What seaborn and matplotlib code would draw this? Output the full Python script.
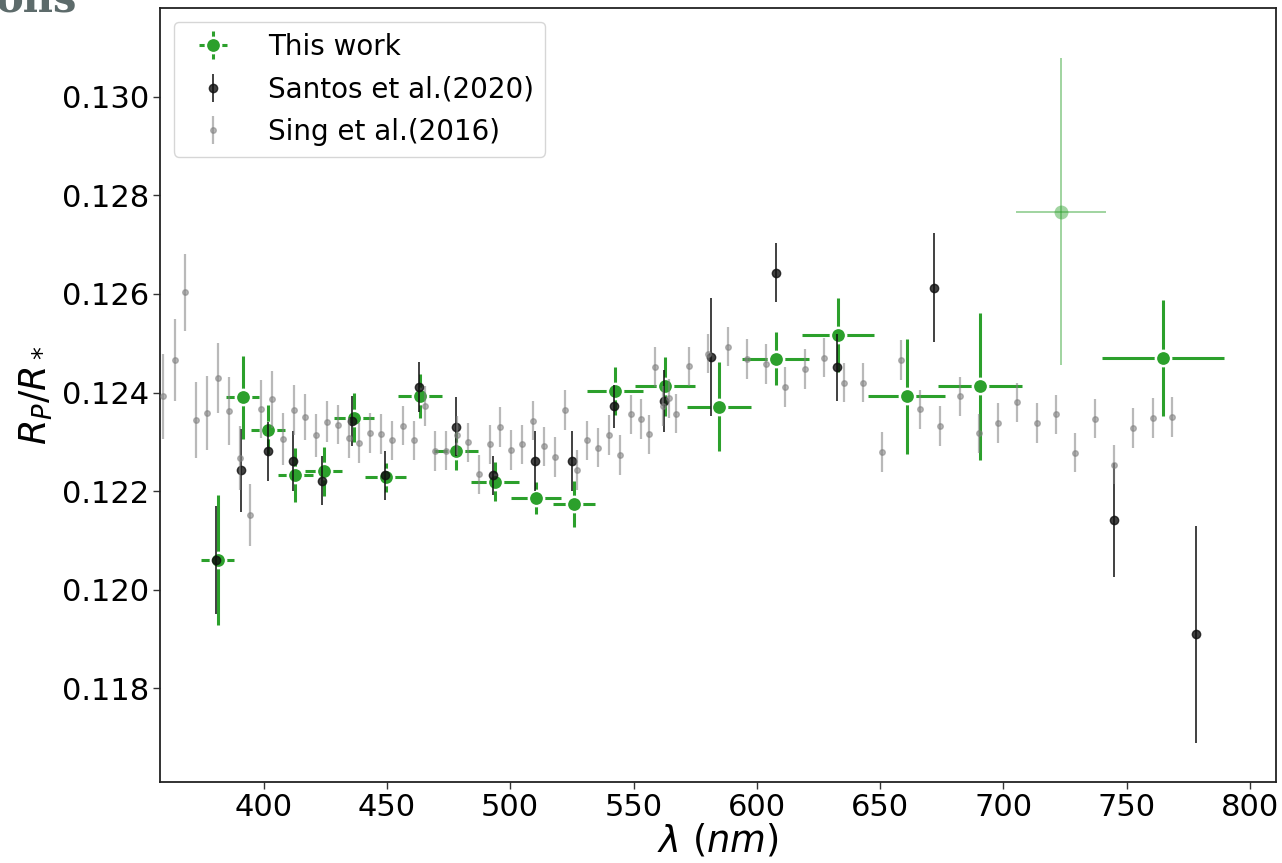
import numpy as np
import matplotlib
matplotlib.use("Agg")
import matplotlib.pyplot as plt
import seaborn as sns

# This work (green), bins with horizontal widths
work_wl = [381.5, 391.6, 401.7, 412.9, 424.3, 436.8, 449.6, 463.6, 478.2, 493.7,
           510.3, 525.8, 542.4, 562.8, 584.5, 607.7, 633.1, 660.7, 690.6, 764.7]
work_rp = [0.12060, 0.12390, 0.12325, 0.12232, 0.12240, 0.12349, 0.12228, 0.12393, 0.12282, 0.12219,
           0.12186, 0.12174, 0.12403, 0.12413, 0.12371, 0.12469, 0.12517, 0.12392, 0.12413, 0.12470]
work_err = [0.00132, 0.00085, 0.00050, 0.00055, 0.00049, 0.00050, 0.00030, 0.00045, 0.00040, 0.00040,
            0.00033, 0.00047, 0.00049, 0.00060, 0.00090, 0.00053, 0.00075, 0.00116, 0.00149, 0.00118]
work_hw = [6.7, 6.7, 6.9, 7.2, 7.6, 8.1, 8.3, 8.9, 8.9, 9.7,
           10.1, 8.5, 11.4, 12.2, 13.0, 13.6, 14.6, 15.8, 17.0, 24.7]

# faded (excluded) bin of this work
faded_wl = [723.4]
faded_rp = [0.12767]
faded_err = [0.00311]
faded_hw = [18.3]

# Santos et al. (2020)
santos_wl = [380.8, 390.7, 401.7, 411.9, 423.8, 435.8, 449.2, 463.0, 478.2, 493.0,
             510.2, 525.2, 542.1, 562.4, 581.5, 607.6, 632.5, 671.7, 744.8, 778.0]
santos_rp = [0.12060, 0.12242, 0.12281, 0.12261, 0.12221, 0.12342, 0.12232, 0.12411, 0.12331, 0.12232,
             0.12261, 0.12261, 0.12372, 0.12383, 0.12472, 0.12643, 0.12451, 0.12613, 0.12141, 0.11910]
santos_err = [0.0011, 0.00085, 0.0006, 0.0006, 0.0005, 0.0005, 0.0005, 0.0005, 0.0006, 0.0004,
              0.0006, 0.0006, 0.00043, 0.00063, 0.0012, 0.0006, 0.00068, 0.0011, 0.00116, 0.0022]

# Sing et al. (2016)
sing_wl = [359.4, 363.9, 368.2, 372.7, 377.2, 381.5, 385.9, 390.3, 394.6, 399.1,
           403.5, 407.8, 412.3, 416.8, 421.1, 425.6, 430.0, 434.5, 438.8, 443.3,
           447.6, 452.0, 456.5, 461.0, 465.3, 469.7, 474.1, 478.6, 482.9, 487.3,
           491.7, 496.0, 500.5, 504.9, 509.2, 513.7, 518.1, 522.4, 526.9, 531.3,
           535.8, 540.1, 544.5, 548.9, 553.2, 556.1, 558.9, 561.9, 564.4, 567.3,
           572.5, 580.2, 588.2, 596.0, 603.8, 611.6, 619.5, 627.3, 635.2, 643.0,
           650.8, 658.6, 666.3, 674.4, 682.2, 690.1, 697.9, 705.6, 713.5, 721.3,
           729.1, 737.0, 744.8, 752.7, 760.5, 768.4]
sing_rp = [0.12392, 0.12466, 0.12603, 0.12345, 0.12358, 0.12430, 0.12363, 0.12267, 0.12151, 0.12367,
           0.12386, 0.12306, 0.12364, 0.12350, 0.12313, 0.12341, 0.12335, 0.12308, 0.12298, 0.12318,
           0.12316, 0.12303, 0.12333, 0.12303, 0.12373, 0.12281, 0.12282, 0.12313, 0.12299, 0.12234,
           0.12295, 0.12330, 0.12283, 0.12295, 0.12343, 0.12291, 0.12269, 0.12365, 0.12243, 0.12303,
           0.12288, 0.12314, 0.12273, 0.12356, 0.12346, 0.12315, 0.12452, 0.12373, 0.12388, 0.12357,
           0.12453, 0.12479, 0.12493, 0.12468, 0.12458, 0.12411, 0.12448, 0.12471, 0.12420, 0.12420,
           0.12279, 0.12466, 0.12366, 0.12332, 0.12392, 0.12317, 0.12338, 0.12380, 0.12338, 0.12356,
           0.12278, 0.12347, 0.12254, 0.12328, 0.12348, 0.12350]
sing_err = [0.00087, 0.00083, 0.00079, 0.00077, 0.00075, 0.00071, 0.00069, 0.00065, 0.00063, 0.00059,
            0.00057, 0.00053, 0.00051, 0.00047, 0.00043, 0.00041] + [0.0004] * 60

x_ticks = [400, 450, 500, 550, 600, 650, 700, 750, 800]
y_ticks = [0.118, 0.120, 0.122, 0.124, 0.126, 0.128, 0.130]

sns.set_style("ticks")
plt.rcParams["font.family"] = ["DejaVu Sans"]
plt.rcParams["mathtext.fontset"] = "dejavusans"
plt.rcParams["text.color"] = "black"

fig = plt.figure(figsize=(12.82, 8.63), dpi=100)
ax = fig.add_axes([0.1248, 0.0939, 0.8705, 0.8968])

green = "#2ca02c"
ax.errorbar(work_wl, work_rp, yerr=work_err, xerr=work_hw, fmt="o", color=green,
            ms=11, mec="white", mew=1.8, elinewidth=2.2, capsize=0, zorder=2,
            label="This work")
ax.errorbar(faded_wl, faded_rp, yerr=faded_err, xerr=faded_hw, fmt="o", color=green,
            ms=10, mew=0, elinewidth=1.4, capsize=0, alpha=0.45, zorder=2)
ax.errorbar(santos_wl, santos_rp, yerr=santos_err, fmt="o", color="#111111",
            ms=6, elinewidth=1.4, capsize=0, alpha=0.8, zorder=3,
            label="Santos et al.(2020)")
ax.errorbar(sing_wl, sing_rp, yerr=sing_err, fmt="o", color="gray",
            ms=4, elinewidth=1.6, capsize=0, alpha=0.55, zorder=4,
            label="Sing et al.(2016)")

ax.set_xlim(358, 810.5)
ax.set_ylim(0.1161, 0.1318)
ax.set_xticks(x_ticks)
ax.set_yticks(y_ticks)
ax.set_yticklabels([f"{v:.3f}" for v in y_ticks])
ax.tick_params(labelsize=22, length=5, width=1, pad=3, color="#333333",
               labelcolor="black")
for sp in ax.spines.values():
    sp.set_color("#222222")
    sp.set_linewidth(1.3)

ax.set_xlabel(r"$\lambda\ (nm)$", fontsize=26.5, labelpad=0, color="black")
ax.set_ylabel(r"$R_P/R_*$", fontsize=26.5, labelpad=5, color="black")

leg = ax.legend(loc="upper left", fontsize=20, frameon=True, borderpad=0.4,
                handletextpad=1.0, labelspacing=0.52, handlelength=2.0)
leg.get_frame().set_edgecolor("#cccccc")

# page heading fragment cut at the top of the screenshot
fig.text(-0.004, 0.985, "ons", fontsize=30, fontweight="bold", color="#5d6b6b",
         family="DejaVu Serif", va="baseline", ha="left")

fig.savefig("out.png", dpi=100)
